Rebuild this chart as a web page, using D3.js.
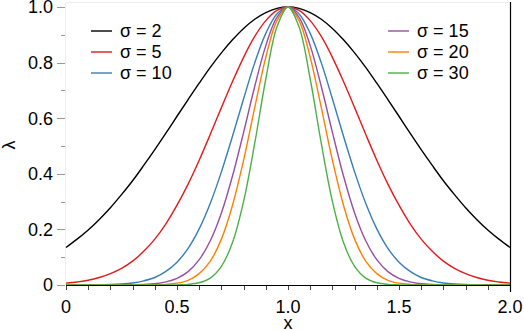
<!DOCTYPE html>
<html><head><meta charset="utf-8">
<script src="https://cdn.jsdelivr.net/npm/d3@7"></script>
<style>
html,body{margin:0;padding:0;background:#fff;}
svg{display:block;font-family:"Liberation Sans",Arial,Helvetica,sans-serif;}
</style></head>
<body><svg id="c" width="524" height="330"></svg>
<script>
// x sample positions (0 to 2 in steps of 0.05)
const xs = d3.range(41).map(i => +(i*0.05).toFixed(2));
const sigmas = [2, 5, 10, 15, 20, 30];
const colors = ["#000000", "#e41a1c", "#377eb8", "#984ea3", "#ff7f00", "#4daf4a"];
// half-profiles, listed from x=0 up to x=1 (peak); curves are symmetric about x=1
const s2  = [0.135,0.165,0.198,0.236,0.278,0.325,0.375,0.430,0.487,0.546,0.607,0.667,0.726,0.783,0.835,0.882,0.923,0.956,0.980,0.995,1];
const s5  = [0.0067,0.011,0.017,0.027,0.041,0.060,0.086,0.121,0.165,0.220,0.287,0.363,0.449,0.542,0.638,0.732,0.819,0.894,0.951,0.988,1];
const s10 = [0.00005,0.0001,0.0003,0.0007,0.0017,0.0036,0.0074,0.015,0.027,0.049,0.082,0.132,0.202,0.294,0.407,0.535,0.670,0.799,0.905,0.975,1];
const s15 = [0,0,0,0,0.0001,0.0002,0.0006,0.0018,0.0045,0.011,0.024,0.048,0.091,0.159,0.259,0.392,0.549,0.714,0.861,0.963,1];
const s20 = [0,0,0,0,0,0,0.0001,0.0002,0.0007,0.0024,0.0067,0.017,0.041,0.086,0.165,0.287,0.449,0.638,0.819,0.951,1];
const s30 = [0,0,0,0,0,0,0,0,0,0.0001,0.0006,0.0023,0.0082,0.025,0.067,0.153,0.301,0.509,0.741,0.928,1];
const halves = [s2, s5, s10, s15, s20, s30];
const xTicks = [0, 0.5, 1.0, 1.5, 2.0];
const xTickLabels = ["0", "0.5", "1.0", "1.5", "2.0"];
const yTicks = [0, 0.2, 0.4, 0.6, 0.8, 1.0];
const yTickLabels = ["0", "0.2", "0.4", "0.6", "0.8", "1.0"];

const svg = d3.select("#c");
const x = d3.scaleLinear().domain([0, 2]).range([66, 510]);
const y = d3.scaleLinear().domain([0, 1]).range([285, 7]);

// frame
svg.append("line").attr("x1",66).attr("x2",510).attr("y1",2.5).attr("y2",2.5).attr("stroke","#eeeeee");
svg.append("line").attr("x1",65.5).attr("x2",65.5).attr("y1",2.5).attr("y2",285).attr("stroke","#eeeeee");

// y axis ticks
const yMinor = d3.range(0, 1.001, 0.1);
svg.selectAll(".ymt").data(yMinor).enter().append("line")
  .attr("x1", (d,i) => i%2===0 ? 57 : 61).attr("x2", 65)
  .attr("y1", d => Math.round(y(d))+0.5).attr("y2", d => Math.round(y(d))+0.5)
  .attr("stroke", "#999").attr("stroke-width", 1);
svg.selectAll(".ytl").data(yTicks).enter().append("text")
  .attr("x", 53).attr("y", d => y(d)).attr("dy", "0.35em")
  .attr("text-anchor", "end").attr("font-size", 18).attr("fill", "#000")
  .text((d,i) => yTickLabels[i]);

// x axis
const xMinor = d3.range(0, 2.001, 0.1);
svg.selectAll(".xmt").data(xMinor).enter().append("line")
  .attr("x1", d => Math.round(x(d))+0.5).attr("x2", d => Math.round(x(d))+0.5)
  .attr("y1", 285).attr("y2", 290)
  .attr("stroke", "#444").attr("stroke-width", 1);
svg.selectAll(".xtl").data(xTicks).enter().append("text")
  .attr("x", d => x(d)).attr("y", 313)
  .attr("text-anchor", "middle").attr("font-size", 18).attr("fill", "#000")
  .text((d,i) => xTickLabels[i]);

// curves
const line = d3.line().x(d => x(d[0])).y(d => y(d[1])).curve(d3.curveCatmullRom);
halves.forEach((h, k) => {
  const full = h.concat(h.slice(0, -1).reverse());
  const pts = xs.map((xv, i) => [xv, full[i]]);
  svg.append("path").datum(pts).attr("d", line)
    .attr("fill", "none").attr("stroke", colors[k]).attr("stroke-width", 1.4);
});

// bottom axis line and right border
svg.append("line").attr("x1",66).attr("x2",510).attr("y1",285.5).attr("y2",285.5).attr("stroke","#000").attr("stroke-width",1.2);
svg.append("line").attr("x1",510.5).attr("x2",510.5).attr("y1",2).attr("y2",292).attr("stroke","#000").attr("stroke-width",1.2);

// axis titles
svg.append("text").attr("x", 288).attr("y", 329).attr("text-anchor","middle").attr("font-size",18).text("x");
svg.append("text").attr("transform","translate(15,145) rotate(-90)").attr("text-anchor","middle").attr("font-size",18).text("λ");

// legends
const legendRows = [31, 52, 73];
sigmas.forEach((s, k) => {
  const col = k < 3 ? 0 : 1;
  const row = k % 3;
  const lx = col === 0 ? 91 : 388;
  const ly = legendRows[row];
  svg.append("line").attr("x1", lx).attr("x2", lx+21).attr("y1", ly).attr("y2", ly)
    .attr("stroke", colors[k]).attr("stroke-width", 1.4);
  svg.append("text").attr("x", lx+29).attr("y", ly).attr("dy","0.35em")
    .attr("font-size", 18).text("σ = " + s);
});
</script></body></html>
